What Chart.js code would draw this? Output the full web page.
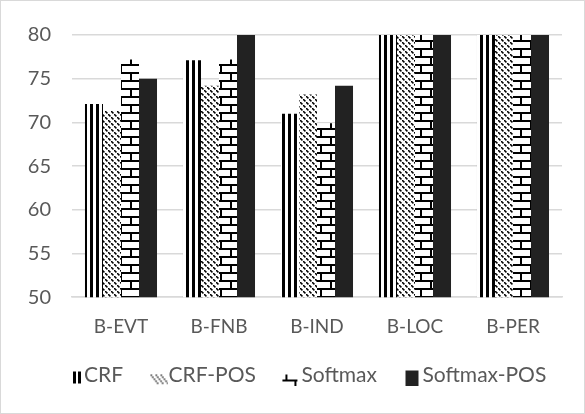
<!DOCTYPE html>
<html>
<head>
<meta charset="utf-8">
<script src="https://cdn.jsdelivr.net/npm/chart.js@4"></script>
<style>
html,body{margin:0;padding:0;background:#fff;}
#wrap{position:relative;width:585px;height:414px;}
#wrap:after{content:"";position:absolute;left:0;top:0;right:0;bottom:0;border:1px solid #d9d9d9;pointer-events:none;}
canvas{display:block;}
</style>
</head>
<body>
<div id="wrap"><canvas id="c" width="585" height="414"></canvas></div>
<script>
const categories = ["B-EVT", "B-FNB", "B-IND", "B-LOC", "B-PER"];
const seriesNames = ["CRF", "CRF-POS", "Softmax", "Softmax-POS"];
const crf = [72.1, 77.1, 71.0, 85, 85];
const crfPos = [71.3, 74.2, 73.2, 85, 85];
const softmax = [77.2, 77.2, 69.9, 85, 85];
const softmaxPos = [75.0, 81, 74.2, 85, 85];
const yTicks = [50, 55, 60, 65, 70, 75, 80];

function mk(w, h, draw) {
  const c = document.createElement('canvas');
  c.width = w; c.height = h;
  const x = c.getContext('2d');
  draw(x);
  return c;
}
const ctx0 = document.getElementById('c').getContext('2d');
// fill patterns
const stripeTile = mk(6, 6, x => { x.fillStyle = '#fff'; x.fillRect(0,0,6,6); x.fillStyle = '#000'; x.fillRect(0,0,3,6); });
const dotTile = mk(6, 6, x => {
  x.fillStyle = '#fff'; x.fillRect(0,0,6,6); x.fillStyle = '#000';
  for (let i = 0; i < 6; i++) { if (i % 3 !== 2) x.fillRect(i, i, 1.6, 1.6); }
});
const brickTile = mk(20, 16, x => {
  x.fillStyle = '#fff'; x.fillRect(0,0,20,16); x.fillStyle = '#000';
  x.fillRect(0,0,20,2); x.fillRect(0,8,20,2);
  x.fillRect(0,0,2,8); x.fillRect(10,8,2,8);
});
const pStripe = ctx0.createPattern(stripeTile, 'repeat');
const pDot = ctx0.createPattern(dotTile, 'repeat');
const pBrick = ctx0.createPattern(brickTile, 'repeat');

// legend icons (40x20, content at right side next to the text)
const iconCRF = mk(40, 20, x => { x.fillStyle = '#000'; x.fillRect(30,6,3,12); x.fillRect(35,6,3,12); });
const iconCRFPos = mk(40, 20, x => {
  x.fillStyle = '#000';
  for (let k = 0; k < 3; k++) for (let i = 0; i < 10; i += 2) x.fillRect(23 + k*5 + i*0.8, 9 + i, 1.4, 1.4);
});
const iconSoft = mk(40, 20, x => {
  x.fillStyle = '#000';
  x.fillRect(25,9,2,6); x.fillRect(22,14,15,2); x.fillRect(34,15,2,5);
});
const iconSoftPos = mk(40, 20, x => { x.fillStyle = '#222'; x.fillRect(24,5,13,15); });
const icons = [iconCRF, iconCRFPos, iconSoft, iconSoftPos];

const FONT = 'Lato';
const GREY = '#595959';

const shiftLegend = {
  id: 'shiftLegend',
  afterLayout(chart) {
    const lg = chart.legend;
    const dx = 38.5 - lg.left;
    lg.left += dx; lg.right += dx;
    lg.top -= 5; lg.bottom -= 5;
  }
};

new Chart(document.getElementById('c'), {
  type: 'bar',
  data: {
    labels: categories,
    datasets: [
      { label: seriesNames[0], data: crf, backgroundColor: pStripe },
      { label: seriesNames[1], data: crfPos, backgroundColor: pDot },
      { label: seriesNames[2], data: softmax, backgroundColor: pBrick },
      { label: seriesNames[3], data: softmaxPos, backgroundColor: '#222222' }
    ]
  },
  plugins: [shiftLegend],
  options: {
    responsive: false,
    animation: false,
    devicePixelRatio: 1,
    layout: { padding: { left: 10, right: 23, top: 35, bottom: 13 } },
    datasets: { bar: { barPercentage: 1, categoryPercentage: 0.735, borderWidth: 0 } },
    scales: {
      x: {
        grid: { display: false, drawTicks: false },
        border: { display: true, color: '#d9d9d9', width: 1.5 },
        ticks: { color: GREY, font: { family: FONT, size: 19 }, padding: 18 }
      },
      y: {
        min: 50, max: 80,
        afterBuildTicks: s => { s.ticks = yTicks.map(v => ({ value: v })); },
        afterFit: s => { s.width = 72 - 10; },
        grid: { color: '#d9d9d9', lineWidth: 1.5, drawTicks: false },
        border: { display: false },
        ticks: { color: GREY, font: { family: FONT, size: 20 }, padding: 21 }
      }
    },
    plugins: {
      tooltip: { enabled: false },
      legend: {
        position: 'bottom',
        align: 'start',
        labels: {
          color: GREY,
          font: { family: FONT, size: 21 },
          usePointStyle: true,
          boxWidth: 21,
          boxHeight: 14,
          padding: 14,
          generateLabels: chart => {
            const items = Chart.defaults.plugins.legend.labels.generateLabels(chart);
            items.forEach((it, i) => { it.pointStyle = icons[i]; });
            return items;
          }
        }
      }
    }
  }
});
</script>
</body>
</html>
